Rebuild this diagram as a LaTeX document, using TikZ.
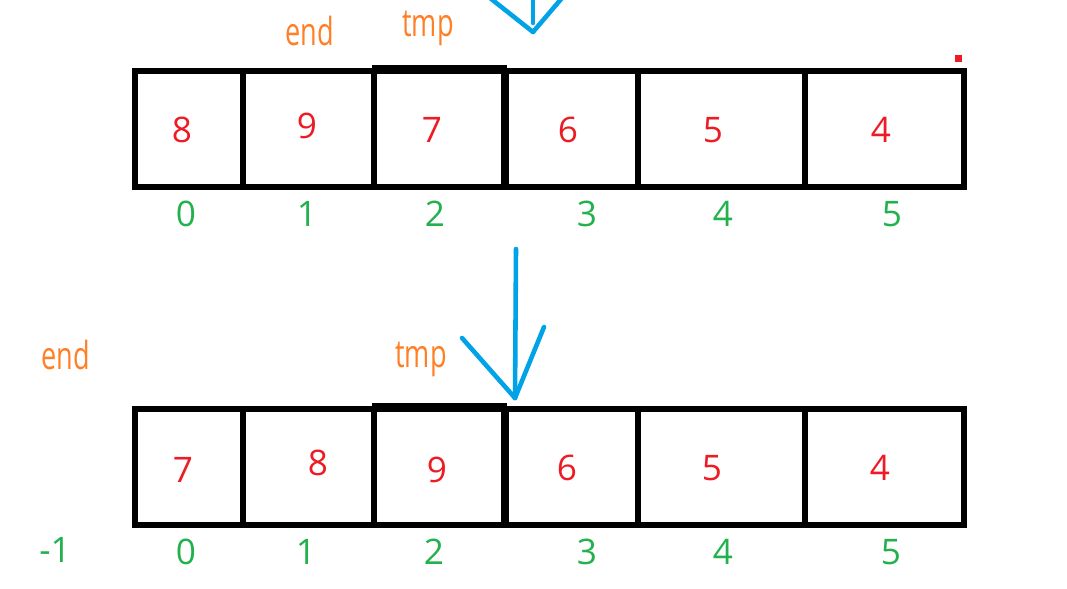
\documentclass[tikz,border=0pt]{standalone}
\usepackage{fontspec}
\setmainfont{Open Sans}
\newfontfamily\narrowfont[FakeStretch=0.7]{Open Sans}
\usepackage{xcolor}
\usetikzlibrary{positioning, calc}

\definecolor{valred}{RGB}{237,28,36}
\definecolor{idxgreen}{RGB}{34,177,76}
\definecolor{ptrorange}{RGB}{255,127,39}
\definecolor{arrowblue}{RGB}{0,162,232}

\tikzset{
    cellline/.style={line width=1.5pt, black},
    val/.style={text=valred, font=\fontsize{10}{12}\selectfont},
    idx/.style={text=idxgreen, font=\fontsize{10}{12}\selectfont},
    ptr/.style={text=ptrorange, anchor=base, font=\narrowfont\fontsize{11}{13}\selectfont},
    handarrow/.style={arrowblue, line width=1.3pt, line cap=round}
}

\begin{document}
\begin{tikzpicture}[x=0.01cm, y=-0.01cm]
    \useasboundingbox (0,0) rectangle (1067,589);

    % 上面的数组
    \draw[cellline] (135,71) rectangle (964,187);
    \draw[cellline] (243,71) -- (243,187);
    \draw[cellline] (374,71) -- (374,187);
    \draw[cellline] (505,71) -- (505,187);
    \draw[cellline] (638,71) -- (638,187);
    \draw[cellline] (805,71) -- (805,187);
    \draw[line width=2.2pt] (372,69) -- (507,69);
    \draw[line width=2.2pt] (505,69) -- (505,187);

    \node[val] (a0) at (182,130) {8};
    \node[val] (a1) at (307,126) {9};
    \node[val] (a2) at (432,130) {7};
    \node[val] (a3) at (568,130) {6};
    \node[val] (a4) at (713,130) {5};
    \node[val] (a5) at (881,130) {4};

    \node[idx] (i0) at (186,214) {0};
    \node[idx] (i1) at (307,214) {1};
    \node[idx] (i2) at (435,214) {2};
    \node[idx] (i3) at (587,214) {3};
    \node[idx] (i4) at (723,214) {4};
    \node[idx] (i5) at (892,214) {5};

    \node[ptr] (endA) at (310,46) {end};
    \node[ptr] (tmpA) at (428,37) {tmp};

    % 小红点
    \fill[valred] (955,55) rectangle (962,62);

    % 上面的箭头（被截掉一半）
    \coordinate (tipA) at (533,32);
    \draw[handarrow] (490,-2) -- (tipA);
    \draw[handarrow] (533,-2) -- (533,23);
    \draw[handarrow] (562,-2) -- (tipA);

    % 中间的箭头
    \coordinate (topB) at (516,249);
    \coordinate (tipB) at (515,398);
    \draw[handarrow] (topB) -- (tipB);
    \draw[handarrow] (462,338) -- (tipB);
    \draw[handarrow] (544,327) -- (tipB);

    % 下面的数组
    \draw[cellline] (135,409) rectangle (964,525);
    \draw[cellline] (243,409) -- (243,525);
    \draw[cellline] (374,409) -- (374,525);
    \draw[cellline] (505,409) -- (505,525);
    \draw[cellline] (638,409) -- (638,525);
    \draw[cellline] (805,409) -- (805,525);
    \draw[line width=2.2pt] (372,407) -- (507,407);
    \draw[line width=2.2pt] (505,407) -- (505,525);

    \node[val] (b0) at (183,470) {7};
    \node[val] (b1) at (318,463) {8};
    \node[val] (b2) at (437,470) {9};
    \node[val] (b3) at (567,468) {6};
    \node[val] (b4) at (712,468) {5};
    \node[val] (b5) at (880,468) {4};

    \node[idx] (j0) at (186,552) {0};
    \node[idx] (j1) at (306,552) {1};
    \node[idx] (j2) at (434,552) {2};
    \node[idx] (j3) at (587,552) {3};
    \node[idx] (j4) at (723,552) {4};
    \node[idx] (j5) at (891,552) {5};
    \node[idx] (jm) at (55,550) {-1};

    \node[ptr] (endB) at (66,370) {end};
    \node[ptr] (tmpB) at (421,368) {tmp};
\end{tikzpicture}
\end{document}
